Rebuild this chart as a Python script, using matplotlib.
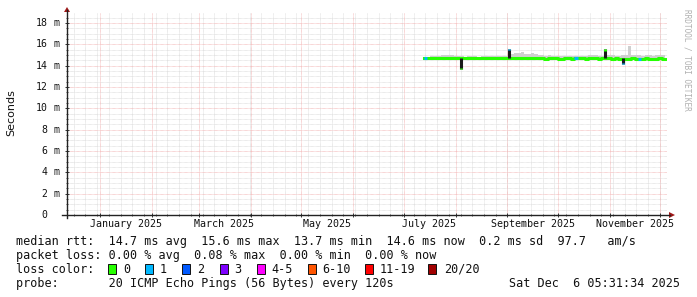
import matplotlib
matplotlib.use('Agg')
import matplotlib.pyplot as plt
import numpy as np
import pandas as pd
from datetime import datetime, timedelta
from matplotlib.lines import Line2D
from matplotlib.patches import Rectangle, Polygon

W, H, DPI = 697, 297, 100

# ---------------- data ----------------
range_start = '2024-12-12'
range_end = '2025-12-05 05:31'
series_start = '2025-07-13'   # samples every 2 days

median_ms = [14.72, 14.71, 14.70, 14.71, 14.72, 14.70, 14.69, 14.70, 14.71, 14.72,
             14.70, 14.70, 14.69, 14.70, 14.71, 14.72, 14.70, 14.71, 14.72, 14.71,
             14.70, 14.71, 14.72, 14.71, 14.70, 14.72, 14.73, 14.72, 14.71, 14.72,
             14.71, 14.70, 14.71, 14.70, 14.69, 14.70, 14.68, 14.69, 14.70, 14.69,
             14.67, 14.68, 14.69, 14.70, 14.68, 14.69, 14.70, 14.69, 14.68, 14.69,
             14.70, 14.69, 14.68, 14.69, 14.70, 14.69, 14.68, 14.69, 14.68, 14.67,
             14.66, 14.68, 14.69, 14.68, 14.67, 14.68, 14.69, 14.68, 14.67, 14.68,
             14.69, 14.68, 14.66]

smoke_hi_ms = [14.82, 14.84, 14.88, 14.92, 14.95, 15.00, 15.02, 14.98, 15.00, 14.95,
               14.92, 14.88, 14.85, 14.87, 14.90, 14.88, 14.86, 14.90, 14.92, 14.88,
               14.87, 14.90, 14.92, 14.88, 14.90, 14.94, 15.12, 15.22, 15.18, 15.28,
               15.12, 15.08, 15.18, 15.08, 15.02, 14.98, 14.95, 14.98, 14.92, 14.95,
               14.90, 14.88, 14.90, 14.95, 14.90, 14.88, 14.92, 14.95, 14.90, 14.98,
               15.00, 14.98, 14.92, 14.95, 15.00, 15.02, 14.98, 14.95, 14.92, 14.98,
               15.02, 15.90, 14.98, 15.00, 14.98, 14.95, 14.98, 15.00, 14.96, 14.98,
               14.98, 15.00, 15.08]

loss_level = [1, 0, 0, 0, 0, 0, 0, 0, 0, 0,
              0, 0, 0, 0, 0, 0, 0, 0, 0, 0,
              0, 0, 0, 0, 0, 0, 0, 0, 0, 0,
              0, 0, 0, 0, 0, 0, 0, 0, 0, 0,
              0, 0, 0, 0, 0, 1, 0, 0, 0, 0,
              0, 0, 0, 0, 0, 0, 0, 0, 0, 0,
              0, 0, 0, 0, 1, 0, 0, 0, 0, 0,
              0, 0, 0]

spike_dates = ['2025-08-04', '2025-09-02', '2025-10-29', '2025-11-09']
spike_ms = [13.70, 15.60, 15.55, 14.15]
spike_loss = [0, 1, 0, 1]

y_ticks = [0, 2, 4, 6, 8, 10, 12, 14, 16, 18]
month_labels = ['January 2025', 'March 2025', 'May 2025', 'July 2025',
                'September 2025', 'November 2025']

loss_labels = ['0', '1', '2', '3', '4-5', '6-10', '11-19', '20/20']
loss_colors = ['#26ff00', '#00b8ff', '#0059ff', '#7e00ff', '#ff00ff',
               '#ff5500', '#ff0000', '#a10000']

legend_line1 = 'median rtt:  14.7 ms avg  15.6 ms max  13.7 ms min  14.6 ms now  0.2 ms sd  97.7   am/s'
legend_line2 = 'packet loss: 0.00 % avg  0.08 % max  0.00 % min  0.00 % now'
legend_line3 = 'loss color:'
legend_line4 = 'probe:       20 ICMP Echo Pings (56 Bytes) every 120s'
stamp = 'Sat Dec  6 05:31:34 2025'
side_text = 'RRDTOOL / TOBI OETIKER'

# ---------------- figure ----------------
def fx(px):
    return px / W

def fy(py):
    return 1 - py / H

MONO = 'DejaVu Sans Mono'
fig = plt.figure(figsize=(W / DPI, H / DPI), dpi=DPI)
fig.patch.set_facecolor('white')

AX_L, AX_R, AX_B, AX_T = 67, 667, 215, 13
ax = fig.add_axes([fx(AX_L), fy(AX_B), (AX_R - AX_L) / W, (AX_B - AX_T) / H])
ax.set_facecolor('white')
t0, t1 = pd.Timestamp(range_start), pd.Timestamp(range_end)
YMAX = 18.95
ax.set_xlim(t0, t1)
ax.set_ylim(0, YMAX)
for s in ax.spines.values():
    s.set_visible(False)

# grid
major_x = pd.date_range(t0, t1, freq='MS')
minor_x = pd.date_range(t0, t1, freq='W-MON')
dot = (0, (0.72, 0.72))
GRID_MINOR = '#d8d8d8'
GRID_MAJOR = '#f3b0b0'
for d in minor_x:
    ax.axvline(d, color=GRID_MINOR, lw=0.6, ls=dot, zorder=0)
for d in major_x:
    ax.axvline(d, color=GRID_MAJOR, lw=0.6, ls=dot, zorder=0.1)
for k in range(1, int(YMAX / 0.5) + 1):
    y = k * 0.5
    if k % 4 == 0:
        ax.axhline(y, color=GRID_MAJOR, lw=0.6, ls=dot, zorder=0.1)
    else:
        ax.axhline(y, color=GRID_MINOR, lw=0.6, ls=dot, zorder=0)

# ticks
ax.set_xticks(major_x)
ax.set_xticks(minor_x, minor=True)
ax.set_yticks(y_ticks)
ax.set_yticks(np.arange(0, YMAX, 0.5), minor=True)
ax.tick_params(which='major', length=3, width=0.7, direction='inout', color='#333333',
               labelbottom=False, labelleft=False)
ax.tick_params(which='minor', length=2, width=0.7, direction='inout', color='#555555')

# series
dates = pd.date_range(series_start, periods=len(median_ms), freq='2D')
med = np.array(median_ms)
hi = np.array(smoke_hi_ms)
ax.fill_between(dates, med - 0.08, hi, step='post', color='#cfcfcf', lw=0, zorder=2)
ax.step(dates, med, where='post', color=loss_colors[0], lw=2.2, zorder=3)
for i, lv in enumerate(loss_level):
    if lv and i + 1 < len(dates):
        ax.hlines(med[i], dates[i], dates[i + 1], color=loss_colors[lv], lw=2.2, zorder=4)

# spikes
for d, v, lv in zip(spike_dates, spike_ms, spike_loss):
    dt = pd.Timestamp(d)
    base = 14.70
    ax.vlines(dt, min(base, v), max(base, v), color='#1a1a1a', lw=2.2, zorder=5)
    tip = 0.12 if v > base else -0.12
    ax.vlines(dt, v - tip, v, color=loss_colors[lv], lw=2.2, zorder=6)

# axis lines + arrows
axis_col = '#222222'
fig.add_artist(Line2D([fx(62), fx(670)], [fy(215), fy(215)], color=axis_col, lw=1.0))
fig.add_artist(Line2D([fx(67), fx(67)], [fy(218), fy(10)], color=axis_col, lw=1.0))
arrow_col = '#a01818'
fig.add_artist(Polygon([[fx(64), fy(12)], [fx(70), fy(12)], [fx(67), fy(7)]],
                       closed=True, color=arrow_col, lw=0))
fig.add_artist(Polygon([[fx(669), fy(212)], [fx(669), fy(218)], [fx(675), fy(215)]],
                       closed=True, color=arrow_col, lw=0))

# y tick labels
ppm = (AX_B - AX_T) / YMAX
for v in y_ticks:
    py = AX_B - v * ppm
    fig.text(fx(47.5), fy(py), str(v), ha='right', va='center', fontsize=7.1,
             family=MONO, color='#111111')
    if v != 0:
        fig.text(fx(54), fy(py), 'm', ha='left', va='center', fontsize=7.1,
                 family=MONO, color='#111111')

# x tick labels (centered mid-month)
for lab in month_labels:
    dt = datetime.strptime(lab, '%B %Y') + timedelta(days=15)
    xd = ax.transData.transform((matplotlib.dates.date2num(dt), 0))[0]
    fig.text(xd / fig.bbox.width, fy(224), lab, ha='center', va='center',
             fontsize=7.2, family=MONO, color='#111111')

fig.text(fx(11), fy(113), 'Seconds', rotation=90, ha='center', va='center',
         fontsize=8, family='DejaVu Sans', color='#111111')
fig.text(fx(687), fy(60), side_text, rotation=270, ha='center', va='center',
         fontsize=5.6, family=MONO, color='#b0b0b0')

# legend
LS = 8.5
fig.text(fx(16), fy(245), legend_line1, ha='left', va='baseline', fontsize=LS, family=MONO, color='#111111')
fig.text(fx(16), fy(259), legend_line2, ha='left', va='baseline', fontsize=LS, family=MONO, color='#111111')
fig.text(fx(16), fy(273), legend_line3, ha='left', va='baseline', fontsize=LS, family=MONO, color='#111111')
fig.text(fx(16), fy(287), legend_line4, ha='left', va='baseline', fontsize=LS, family=MONO, color='#111111')
fig.text(fx(680), fy(287), stamp, ha='right', va='baseline', fontsize=LS, family=MONO, color='#111111')

box_x = [108, 145, 182, 219.5, 257, 307.5, 365, 427.5]
lab_x = [123, 160, 197, 234, 271.5, 322, 380, 444]
for bx, lx, lab, col in zip(box_x, lab_x, loss_labels, loss_colors):
    fig.add_artist(Rectangle((fx(bx), fy(274)), 8 / W, 10 / H, facecolor=col,
                             edgecolor='#111111', lw=0.7))
    fig.text(fx(lx), fy(273), lab, ha='left', va='baseline', fontsize=LS,
             family=MONO, color='#111111')

fig.savefig('out.png', dpi=DPI, facecolor='white')
